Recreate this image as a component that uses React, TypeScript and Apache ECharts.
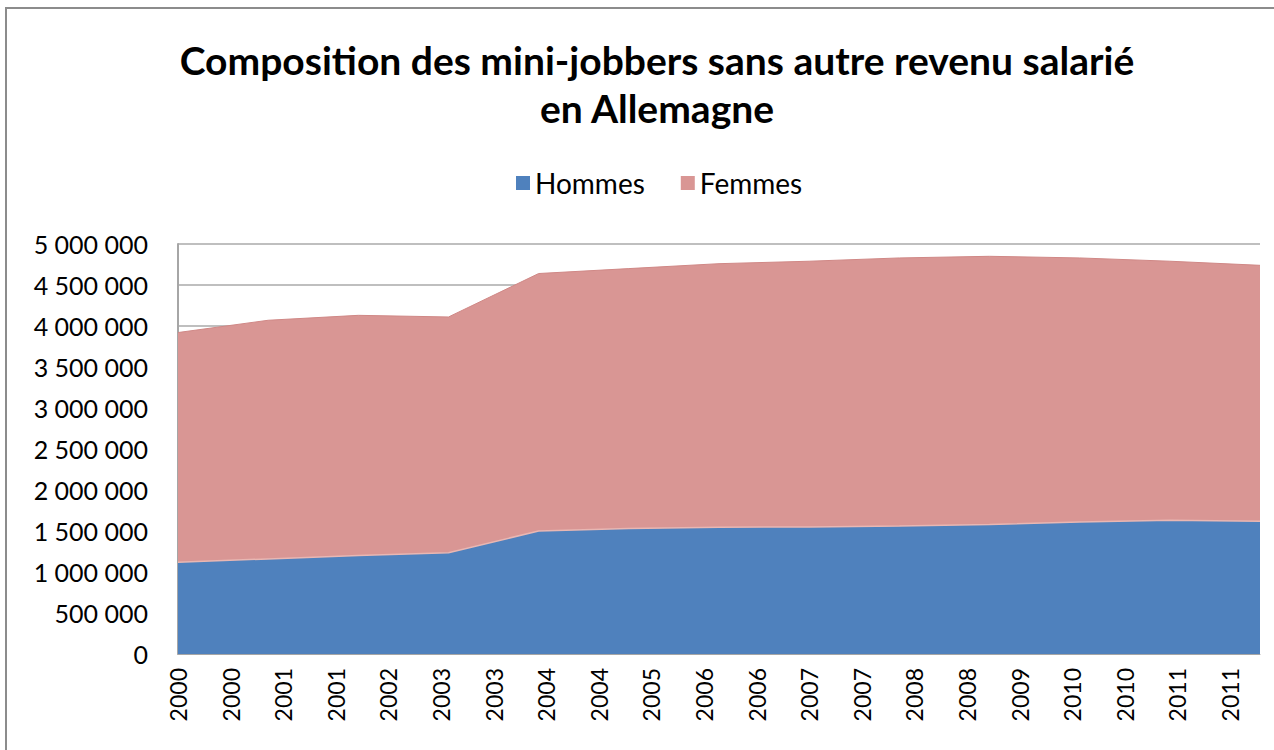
import React, { useEffect, useRef } from "react";
import * as echarts from "echarts";

// Data points (annual observations)
const dataDates = [
  "2000-03", "2001-03", "2002-03", "2003-03", "2004-03", "2005-03", "2006-03",
  "2007-03", "2008-03", "2009-03", "2010-03", "2011-03", "2012-03",
];
const hommes = [
  1120000, 1160000, 1200000, 1235000, 1500000, 1530000, 1545000,
  1550000, 1560000, 1580000, 1610000, 1630000, 1620000,
];
const femmes = [
  2800000, 2910000, 2930000, 2875000, 3140000, 3170000, 3215000,
  3240000, 3270000, 3270000, 3220000, 3160000, 3120000,
];
// Axis tick labels (every 7 months from the first date)
const xTickLabels = [
  "2000", "2000", "2001", "2001", "2002", "2003", "2003", "2004", "2004", "2005",
  "2006", "2006", "2007", "2007", "2008", "2008", "2009", "2010", "2010", "2011", "2011",
];
const labelStepMonths = 7;
const seriesNames = ["Hommes", "Femmes"];
const titleText = "Composition des mini-jobbers sans autre revenu salarié\nen Allemagne";

const toMonths = (d: string) => {
  const [y, m] = d.split("-").map(Number);
  return y * 12 + (m - 1);
};
const base = toMonths(dataDates[0]);
const xs = dataDates.map((d) => toMonths(d) - base);
// cumulative top of the Femmes layer (stacked on Hommes)
const totals = hommes.map((h, i) => h + femmes[i]);

const fmt = (v: number) =>
  String(Math.round(v)).replace(/\B(?=(\d{3})+(?!\d))/g, " ");

export default function App() {
  const ref = useRef<HTMLDivElement>(null);
  useEffect(() => {
    if (!ref.current) return;
    const chart = echarts.init(ref.current, undefined, { renderer: "svg" });
    const font = "Lato, 'Open Sans', sans-serif";
    chart.setOption({
      animation: false,
      backgroundColor: "#ffffff",
      textStyle: { fontFamily: font },
      title: {
        text: titleText,
        left: 652,
        top: 31,
        textAlign: "center",
        textStyle: {
          fontFamily: font,
          fontSize: 39,
          fontWeight: "bold",
          color: "#000",
          lineHeight: 48,
        },
      },
      legend: {
        data: seriesNames,
        left: 511,
        top: 164,
        icon: "rect",
        itemWidth: 14,
        itemHeight: 14,
        itemGap: 36,
        textStyle: { fontFamily: font, fontSize: 28, color: "#000" },
      },
      graphic: [
        {
          type: "polyline",
          shape: { points: [[6, 760], [6, 8], [1290, 8]] },
          style: { stroke: "#8c8c8c", lineWidth: 2, fill: null },
          silent: true,
        },
      ],
      grid: { left: 178, top: 244, width: 1082, height: 410, containLabel: false },
      xAxis: {
        type: "value",
        min: 0,
        max: xs[xs.length - 1],
        interval: labelStepMonths,
        axisLine: { show: true, lineStyle: { color: "#a6a6a6", width: 1 } },
        axisTick: { show: false },
        splitLine: { show: false },
        axisLabel: {
          rotate: 90,
          fontSize: 23,
          color: "#000",
          margin: 14,
          showMaxLabel: false,
          formatter: (v: number) => {
            if (v % labelStepMonths !== 0) return "";
            return xTickLabels[v / labelStepMonths] ?? "";
          },
        },
      },
      yAxis: {
        type: "value",
        min: 0,
        max: 5000000,
        interval: 500000,
        axisLine: { show: true, lineStyle: { color: "#a6a6a6", width: 2 } },
        axisTick: { show: false },
        splitLine: { show: true, lineStyle: { color: "#bfbfbf", width: 2 } },
        axisLabel: {
          fontSize: 25,
          color: "#000",
          margin: 30,
          formatter: (v: number) => fmt(v),
        },
      },
      series: [
        {
          name: seriesNames[0],
          type: "line",
          symbol: "none",
          z: 4,
          data: xs.map((x, i) => [x, hommes[i]]),
          itemStyle: { color: "#4F81BD" },
          lineStyle: { color: "#E9B7B3", width: 1.5 },
          areaStyle: { color: "#4F81BD", opacity: 1 },
        },
        {
          name: seriesNames[1],
          type: "line",
          symbol: "none",
          z: 3,
          data: xs.map((x, i) => [x, totals[i]]),
          itemStyle: { color: "#D99694" },
          lineStyle: { color: "#D08886", width: 1 },
          areaStyle: { color: "#D99694", opacity: 1 },
        },
      ],
    });
    return () => chart.dispose();
  }, []);
  return (
    <div
      ref={ref}
      style={{ position: "absolute", left: 0, top: 0, width: 1274, height: 750 }}
    />
  );
}
